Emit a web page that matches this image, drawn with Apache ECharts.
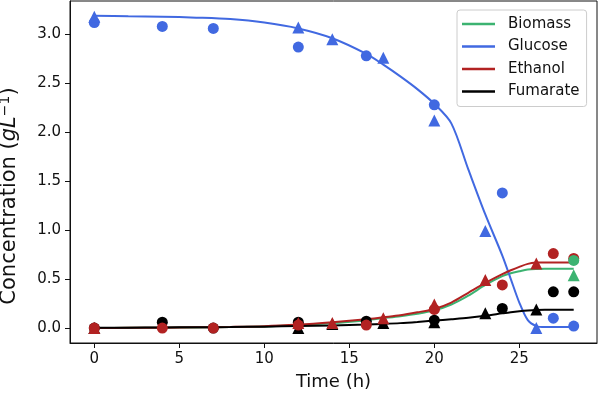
<!DOCTYPE html>
<html>
<head>
<meta charset="utf-8">
<script src="https://cdn.jsdelivr.net/npm/echarts@6/dist/echarts.min.js"></script>
<style>
  html, body { margin: 0; padding: 0; background: #fff; }
  #chart { width: 598px; height: 396px; }
</style>
</head>
<body>
<div id="chart"></div>
<script>
// model curves (sampled)
const lineTime = [0, 2, 4, 6, 8, 10, 12, 14, 16, 17, 18, 19, 20, 21, 22, 23, 24, 24.5, 25, 25.5, 26, 26.5, 27, 28.2];
const biomassLine = [0, 0.002, 0.004, 0.006, 0.01, 0.016, 0.03, 0.05, 0.08, 0.1, 0.12, 0.145, 0.18, 0.24, 0.33, 0.44, 0.53, 0.56, 0.58, 0.597, 0.603, 0.605, 0.605, 0.605];
const glucoseLine = [3.19, 3.185, 3.18, 3.17, 3.155, 3.12, 3.06, 2.96, 2.8, 2.69, 2.57, 2.44, 2.29, 2.09, 1.62, 1.16, 0.74, 0.5, 0.26, 0.08, 0.02, 0.01, 0.01, 0.01];
const ethanolLine = [0, 0.002, 0.004, 0.007, 0.011, 0.018, 0.035, 0.06, 0.09, 0.11, 0.13, 0.16, 0.195, 0.26, 0.36, 0.46, 0.55, 0.59, 0.625, 0.655, 0.668, 0.67, 0.67, 0.67];
const fumarateLine = [0.003, 0.004, 0.006, 0.008, 0.01, 0.014, 0.02, 0.027, 0.036, 0.042, 0.05, 0.062, 0.076, 0.09, 0.105, 0.125, 0.15, 0.162, 0.172, 0.18, 0.185, 0.187, 0.187, 0.187];

// measurements, circles
const circleTime = [0, 4, 7, 12, 16, 20, 24, 27, 28.2];
const biomassCircle = [null, null, null, null, null, null, null, null, 0.69];
const glucoseCircle = [3.12, 3.08, 3.06, 2.87, 2.78, 2.28, 1.38, 0.10, 0.02];
const ethanolCircle = [0, 0, 0, 0.03, 0.03, 0.19, 0.44, 0.76, 0.71];
const fumarateCircle = [0, 0.06, 0, 0.06, 0.07, 0.08, 0.20, 0.37, 0.37];

// measurements, triangles
const triTime = [0, 12, 14, 17, 20, 23, 26, 28.2];
const biomassTri = [null, null, null, null, null, null, null, 0.54];
const glucoseTri = [3.18, 3.07, 2.95, 2.76, 2.12, 0.99, 0, null];
const ethanolTri = [0, 0.05, 0.05, 0.10, 0.24, 0.49, 0.66, null];
const fumarateTri = [0, 0, 0.04, 0.05, 0.06, 0.15, 0.19, null];

const xTicks = [0, 5, 10, 15, 20, 25];
const yTicks = [0, 0.5, 1, 1.5, 2, 2.5, 3];

const FONT = 'DejaVu Sans';
const colors = {
    Biomass: '#3cb371',
    Glucose: '#4169e1',
    Ethanol: '#b22222',
    Fumarate: '#000000'
};

const pairs = (xs, ys) => xs.map((x, i) => [x, ys[i]]).filter(p => p[1] !== null);

const chart = echarts.init(document.getElementById('chart'));

const species = [
    ['Biomass', biomassLine, biomassCircle, biomassTri, 6],
    ['Glucose', glucoseLine, glucoseCircle, glucoseTri, 4],
    ['Ethanol', ethanolLine, ethanolCircle, ethanolTri, 5],
    ['Fumarate', fumarateLine, fumarateCircle, fumarateTri, 3]
];

const series = [];
species.forEach(([name, line]) => {
    series.push({
        name: name,
        type: 'line',
        data: pairs(lineTime, line),
        color: colors[name],
        showSymbol: false,
        smooth: 0.3,
        lineStyle: { width: 2, color: colors[name] },
        z: 2,
        silent: true
    });
});
species.forEach(([name, line, circ, tri, z]) => {
    series.push({
        name: name + ' circle',
        type: 'scatter',
        data: pairs(circleTime, circ),
        symbol: 'circle',
        symbolSize: 11,
        itemStyle: { color: colors[name], opacity: 1 },
        z: z
    });
    series.push({
        name: name + ' triangle',
        type: 'scatter',
        data: pairs(triTime, tri),
        symbol: 'triangle',
        symbolSize: 12,
        itemStyle: { color: colors[name], opacity: 1 },
        z: z
    });
});

const option = {
    animation: false,
    backgroundColor: '#fff',
    grid: {
        left: 70, right: 1, top: 1, bottom: 53,
        outerBoundsMode: 'none',
        show: true, borderColor: '#111', borderWidth: 1
    },
    legend: {
        data: Object.keys(colors).map(n => ({ name: n, icon: 'rect' })),
        orient: 'vertical',
        left: 457, top: 10,
        itemWidth: 33, itemHeight: 2.5,
        itemGap: 4.5,
        padding: [5, 7, 6, 5],
        backgroundColor: 'rgba(255,255,255,0.85)',
        borderColor: '#ccc', borderWidth: 1, borderRadius: 3,
        textStyle: { fontFamily: FONT, fontSize: 15, color: '#111', lineHeight: 18, padding: [0, 0, 0, 8] }
    },
    xAxis: {
        type: 'value',
        min: -1.43, max: 29.57,
        name: 'Time (h)',
        nameLocation: 'middle',
        nameGap: 30,
        nameTextStyle: { fontFamily: FONT, fontSize: 18, color: '#111' },
        splitLine: { show: false },
        axisLine: { show: true, onZero: false, lineStyle: { color: '#111', width: 1 } },
        axisTick: { show: true, length: 5, lineStyle: { color: '#111' }, customValues: xTicks },
        axisLabel: { fontFamily: FONT, fontSize: 15, color: '#111', margin: 9, customValues: xTicks }
    },
    yAxis: {
        type: 'value',
        min: -0.153, max: 3.34,
        name: '{a|Concentration (}{i|gL}{s|−1}{a|)}',
        nameLocation: 'middle',
        nameRotate: 90,
        nameGap: 48,
        nameTextStyle: {
            fontFamily: FONT, color: '#111',
            padding: [0, 48, 0, 0],
            rich: {
                a: { fontFamily: FONT, fontSize: 21, color: '#111', lineHeight: 24 },
                i: { fontFamily: FONT, fontSize: 21, fontStyle: 'italic', color: '#111', lineHeight: 24 },
                s: { fontFamily: FONT, fontSize: 14, color: '#111', verticalAlign: 'top', lineHeight: 14 }
            }
        },
        splitLine: { show: false },
        axisLine: { show: true, onZero: false, lineStyle: { color: '#111', width: 1 } },
        axisTick: { show: true, length: 5, lineStyle: { color: '#111' }, customValues: yTicks },
        axisLabel: {
            fontFamily: FONT, fontSize: 15, color: '#111', margin: 9,
            customValues: yTicks,
            formatter: v => v.toFixed(1)
        }
    },
    series: series
};

chart.setOption(option);
</script>
</body>
</html>
